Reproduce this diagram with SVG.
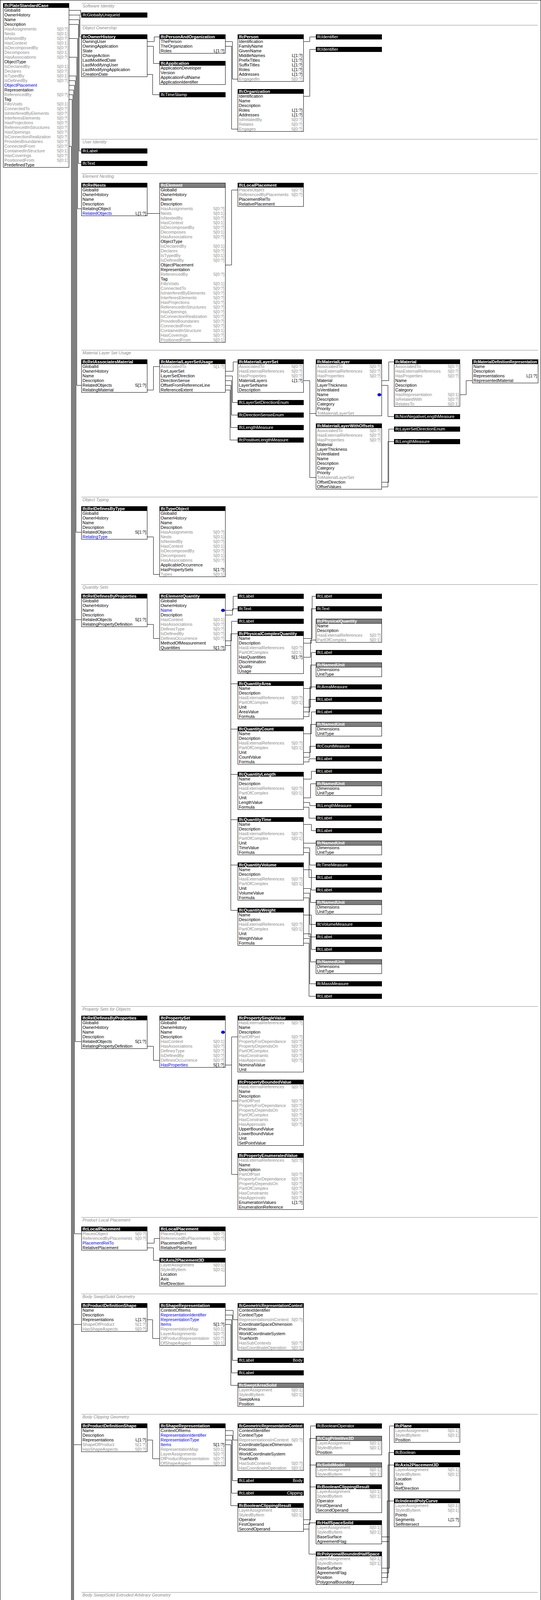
<svg xmlns="http://www.w3.org/2000/svg" width="1384" height="5876" viewBox="0 0 1384 5876">
<defs>
<style>
text{font-family:"Liberation Sans",Arial,Helvetica,sans-serif;font-size:11px;fill:#000}
.f{fill:#fff;stroke:#000}
.h{fill:#000}
.g{fill:#808080;stroke:#000}
.ht{fill:#fff;font-weight:bold}
.tt{fill:#fff}
.i{fill:#8c8c8c}
.u{fill:#0000ff}
.r{text-anchor:end}
.st{fill:#8c8c8c;font-style:italic}
.dot{fill:#0000ff}
#sections line{stroke:#8c8c8c}
#connectors path{fill:none;stroke:#000}
</style>
</defs>
<rect x="0.5" y="0.5" width="1383" height="5875" fill="#fff" stroke="#000"/>
<g id="sections">
<line x1="208" y1="8.5" x2="1376" y2="8.5"/><text class="st" x="211" y="19">Software Identity</text>
<line x1="208" y1="64.5" x2="1376" y2="64.5"/><text class="st" x="211" y="75">Object Ownership</text>
<line x1="208" y1="356.5" x2="1376" y2="356.5"/><text class="st" x="211" y="367">User Identity</text>
<line x1="208" y1="444.5" x2="1376" y2="444.5"/><text class="st" x="211" y="455">Element Nesting</text>
<line x1="208" y1="896.5" x2="1376" y2="896.5"/><text class="st" x="211" y="907">Material Layer Set Usage</text>
<line x1="208" y1="1272.5" x2="1376" y2="1272.5"/><text class="st" x="211" y="1283">Object Typing</text>
<line x1="208" y1="1496.5" x2="1376" y2="1496.5"/><text class="st" x="211" y="1507">Quantity Sets</text>
<line x1="208" y1="2576.5" x2="1376" y2="2576.5"/><text class="st" x="211" y="2587">Property Sets for Objects</text>
<line x1="208" y1="3116.5" x2="1376" y2="3116.5"/><text class="st" x="211" y="3127">Product Local Placement</text>
<line x1="208" y1="3312.5" x2="1376" y2="3312.5"/><text class="st" x="211" y="3323">Body SweptSolid Geometry</text>
<line x1="208" y1="3620.5" x2="1376" y2="3620.5"/><text class="st" x="211" y="3631">Body Clipping Geometry</text>
<line x1="208" y1="4076.5" x2="1376" y2="4076.5"/><text class="st" x="211" y="4087">Body SweptSolid Extruded Arbitrary Geometry</text>
<line x1="208" y1="4488.5" x2="1376" y2="4488.5"/><text class="st" x="211" y="4499">Annotation 2D Geometry</text>
<line x1="208" y1="5184.5" x2="1376" y2="5184.5"/><text class="st" x="211" y="5195">Product Assignment</text>
<line x1="208" y1="5324.5" x2="1376" y2="5324.5"/><text class="st" x="211" y="5335">Element Occurrence Attributes</text>
<line x1="208" y1="5380.5" x2="1376" y2="5380.5"/><text class="st" x="211" y="5391">Surface Connectivity</text>
</g>
<g id="connectors">
<path d="M177 26.5H206.5V38.5H208"/>
<path d="M177 38.5H204.5V94.5H208"/>
<path d="M177 50.5H202.5V386.5H208"/>
<path d="M177 62.5H200.5V418.5H208"/>
<path d="M177 98.5H198.5V534.5H208"/>
<path d="M177 146.5H196.5V986.5H208"/>
<path d="M177 194.5H194.5V1362.5H208"/>
<path d="M177 206.5H192.5V2666.5H208M192.5 1586.5H208"/>
<path d="M177 218.5H190.5V3158.5H208"/>
<path d="M177 230.5H188.5V4566.5H208M188.5 3390.5H208M188.5 3698.5H208M188.5 4154.5H208"/>
<path d="M177 242.5H186.5V5298.5H208"/>
<path d="M177 254.5H184.5V5354.5H208"/>
<path d="M177 374.5H182.5V5494.5H208"/>
<path d="M377 106.5H394.5V94.5H408"/>
<path d="M377 118.5H392.5V162.5H408"/>
<path d="M377 190.5H390.5V242.5H408"/>
<path d="M577 106.5H594.5V202.5H608"/>
<path d="M577 118.5H592.5V330.5H608"/>
<path d="M777 106.5H792.5V94.5H808"/>
<path d="M777 246.5H792.5V126.5H808"/>
<path d="M377 546.5H408"/>
<path d="M577 678.5H592.5V486.5H608"/>
<path d="M377 998.5H392.5V938.5H408"/>
<path d="M577 950.5H596.5V926.5H608"/>
<path d="M577 962.5H594.5V1030.5H608"/>
<path d="M577 974.5H592.5V1062.5H608"/>
<path d="M577 986.5H590.5V1094.5H608"/>
<path d="M577 998.5H588.5V1126.5H608"/>
<path d="M777 974.5H792.5V1222.5H808M792.5 1058.5H808"/>
<path d="M977 974.5H994.5V926.5H1008"/>
<path d="M977 986.5H992.5V1066.5H1008"/>
<path d="M977 1234.5H994.5V1098.5H1008"/>
<path d="M977 1246.5H992.5V1130.5H1008"/>
<path d="M1177 1010.5H1192.5V974.5H1208"/>
<path d="M377 1374.5H392.5V1470.5H408"/>
<path d="M377 1598.5H392.5V1634.5H408"/>
<path d="M577 1562.5H596.5V1526.5H608"/>
<path d="M577 1574.5H594.5V1558.5H608"/>
<path d="M577 1640.5H592.5V1590.5H608"/>
<path d="M577 1652.5H590.5M590.5 1622.5V2330.5M590.5 1622.5H608M590.5 1750.5H608M590.5 1866.5H608M590.5 1982.5H608M590.5 2098.5H608M590.5 2214.5H608M590.5 2330.5H608"/>
<path d="M777 1634.5H798.5V1526.5H808"/>
<path d="M777 1646.5H796.5V1558.5H808"/>
<path d="M777 1682.5H794.5V1638.5H808"/>
<path d="M777 1762.5H796.5V1670.5H808"/>
<path d="M777 1810.5H794.5V1702.5H808"/>
<path d="M777 1822.5H792.5V1758.5H808"/>
<path d="M777 1834.5H790.5V1790.5H808"/>
<path d="M777 1878.5H796.5V1822.5H808"/>
<path d="M777 1926.5H794.5V1854.5H808"/>
<path d="M777 1938.5H792.5V1910.5H808"/>
<path d="M777 1950.5H790.5V1942.5H808"/>
<path d="M777 1994.5H796.5V1974.5H808"/>
<path d="M777 2042.5H794.5V2006.5H808"/>
<path d="M777 2054.5H792.5V2062.5H808"/>
<path d="M777 2066.5H790.5V2094.5H808"/>
<path d="M777 2110.5H796.5V2126.5H808"/>
<path d="M777 2158.5H808"/>
<path d="M777 2170.5H792.5V2214.5H808"/>
<path d="M777 2182.5H790.5V2246.5H808"/>
<path d="M777 2226.5H796.5V2278.5H808"/>
<path d="M777 2274.5H794.5V2310.5H808"/>
<path d="M777 2286.5H792.5V2366.5H808"/>
<path d="M777 2298.5H790.5V2398.5H808"/>
<path d="M777 2342.5H796.5V2430.5H808"/>
<path d="M777 2390.5H794.5V2462.5H808"/>
<path d="M777 2402.5H792.5V2518.5H808"/>
<path d="M777 2414.5H790.5V2550.5H808"/>
<path d="M377 2678.5H392.5V2714.5H408"/>
<path d="M577 2726.5H592.5M592.5 2654.5V3006.5M592.5 2654.5H608M592.5 2818.5H608M592.5 3006.5H608"/>
<path d="M377 3182.5H394.5V3170.5H408"/>
<path d="M377 3194.5H392.5V3226.5H408"/>
<path d="M377 3378.5H390.5V3426.5H408"/>
<path d="M577 3354.5H596.5V3378.5H608"/>
<path d="M577 3366.5H594.5V3482.5H608"/>
<path d="M577 3378.5H592.5V3514.5H608"/>
<path d="M577 3390.5H590.5V3546.5H608"/>
<path d="M377 3686.5H390.5V3734.5H408"/>
<path d="M577 3662.5H596.5V3686.5H608"/>
<path d="M577 3674.5H594.5V3790.5H608"/>
<path d="M577 3686.5H592.5V3822.5H608"/>
<path d="M577 3698.5H590.5V3854.5H608"/>
<path d="M777 3890.5H794.5V3650.5H808"/>
<path d="M777 3902.5H792.5V3682.5H808M792.5 3750.5H808M792.5 3806.5H808"/>
<path d="M777 3914.5H790.5M790.5 3898.5V3978.5M790.5 3898.5H808M790.5 3978.5H808"/>
<path d="M977 3934.5H996.5V3650.5H1008"/>
<path d="M977 3946.5H994.5V3718.5H1008"/>
<path d="M977 4014.5H996.5V3934.5"/>
<path d="M977 4026.5H994.5V3946.5"/>
<path d="M977 4038.5H992.5V3750.5H1008"/>
<path d="M977 4050.5H990.5V3842.5H1008"/>
<path d="M377 4142.5H390.5V4190.5H408"/>
<path d="M577 4118.5H596.5V4142.5H608"/>
<path d="M577 4130.5H594.5V4246.5H608"/>
<path d="M577 4142.5H592.5V4278.5H608"/>
<path d="M577 4154.5H590.5V4390.5H608M590.5 4310.5H608"/>
<path d="M777 4426.5H796.5V4106.5H808"/>
<path d="M777 4462.5H790.5V4198.5H808"/>
<path d="M977 4166.5H992.5V4106.5H1008"/>
<path d="M1177 4142.5H1194.5V4106.5H1208"/>
<path d="M1177 4154.5H1192.5V4206.5H1208M1192.5 4174.5H1208"/>
<path d="M1177 4166.5H1190.5V4238.5H1208"/>
<path d="M377 4554.5H390.5V4602.5H408"/>
<path d="M577 4530.5H596.5V4554.5H608"/>
<path d="M577 4542.5H594.5V4658.5H608"/>
<path d="M577 4554.5H592.5V4690.5H608"/>
<path d="M577 4566.5H590.5V4962.5H608M590.5 4722.5H608M590.5 4802.5H608M590.5 4894.5H608"/>
<path d="M777 4746.5H794.5V4554.5H808"/>
<path d="M777 4758.5H792.5V4610.5H808"/>
<path d="M777 4770.5H790.5V4702.5H808"/>
<path d="M777 4826.5H796.5V4830.5H808"/>
<path d="M777 4838.5H794.5V4886.5H808"/>
<path d="M777 4986.5H796.5V4990.5H808"/>
<path d="M777 4998.5H794.5V5046.5H808"/>
<path d="M777 5010.5H792.5V5078.5H808"/>
<path d="M777 5022.5H790.5V5158.5H808"/>
<path d="M977 4566.5H992.5V4518.5H1008"/>
<path d="M977 4646.5H994.5V4586.5H1008"/>
<path d="M977 4658.5H992.5M992.5 4654.5V4686.5M992.5 4654.5H1008M992.5 4686.5H1008"/>
<path d="M977 4738.5H994.5V4718.5H1008"/>
<path d="M977 4750.5H992.5V4818.5H1008M992.5 4786.5H1008"/>
<path d="M977 4842.5H992.5V4850.5H1008"/>
<path d="M977 4922.5H992.5V4942.5H1008"/>
<path d="M977 5002.5H992.5V4974.5H1008"/>
<path d="M377 5470.5H394.5V5410.5H408"/>
<path d="M377 5482.5H392.5V5730.5H408"/>
<path d="M577 5422.5H594.5V5410.5H608"/>
<path d="M577 5434.5H592.5V5502.5H608"/>
</g>
<g id="nodes">
<g id="IfcPlateStandardCase" transform="translate(8,8)"><rect class="f" x=".5" y=".5" width="168" height="420"/><rect class="h" width="169" height="12"/><text class="ht" x="3" y="10">IfcPlateStandardCase</text>
<text x="3" y="22">GlobalId</text><text x="3" y="34">OwnerHistory</text><text x="3" y="46">Name</text><text x="3" y="58">Description</text>
<text class="i" x="3" y="70">HasAssignments</text><text class="r i" x="166" y="70">S[0:?]</text>
<text class="i" x="3" y="82">Nests</text><text class="r i" x="166" y="82">S[0:1]</text>
<text class="i" x="3" y="94">IsNestedBy</text><text class="r i" x="166" y="94">S[0:?]</text>
<text class="i" x="3" y="106">HasContext</text><text class="r i" x="166" y="106">S[0:1]</text>
<text class="i" x="3" y="118">IsDecomposedBy</text><text class="r i" x="166" y="118">S[0:?]</text>
<text class="i" x="3" y="130">Decomposes</text><text class="r i" x="166" y="130">S[0:1]</text>
<text class="i" x="3" y="142">HasAssociations</text><text class="r i" x="166" y="142">S[0:?]</text>
<text x="3" y="154">ObjectType</text>
<text class="i" x="3" y="166">IsDeclaredBy</text><text class="r i" x="166" y="166">S[0:1]</text>
<text class="i" x="3" y="178">Declares</text><text class="r i" x="166" y="178">S[0:?]</text>
<text class="i" x="3" y="190">IsTypedBy</text><text class="r i" x="166" y="190">S[0:1]</text>
<text class="i" x="3" y="202">IsDefinedBy</text><text class="r i" x="166" y="202">S[0:?]</text>
<text class="u" x="3" y="214">ObjectPlacement</text>
<text x="3" y="226">Representation</text>
<text class="i" x="3" y="238">ReferencedBy</text><text class="r i" x="166" y="238">S[0:?]</text>
<text x="3" y="250">Tag</text>
<text class="i" x="3" y="262">FillsVoids</text><text class="r i" x="166" y="262">S[0:1]</text>
<text class="i" x="3" y="274">ConnectedTo</text><text class="r i" x="166" y="274">S[0:?]</text>
<text class="i" x="3" y="286">IsInterferedByElements</text><text class="r i" x="166" y="286">S[0:?]</text>
<text class="i" x="3" y="298">InterferesElements</text><text class="r i" x="166" y="298">S[0:?]</text>
<text class="i" x="3" y="310">HasProjections</text><text class="r i" x="166" y="310">S[0:?]</text>
<text class="i" x="3" y="322">ReferencedInStructures</text><text class="r i" x="166" y="322">S[0:?]</text>
<text class="i" x="3" y="334">HasOpenings</text><text class="r i" x="166" y="334">S[0:?]</text>
<text class="i" x="3" y="346">IsConnectionRealization</text><text class="r i" x="166" y="346">S[0:?]</text>
<text class="i" x="3" y="358">ProvidesBoundaries</text><text class="r i" x="166" y="358">S[0:?]</text>
<text class="i" x="3" y="370">ConnectedFrom</text><text class="r i" x="166" y="370">S[0:?]</text>
<text class="i" x="3" y="382">ContainedInStructure</text><text class="r i" x="166" y="382">S[0:1]</text>
<text class="i" x="3" y="394">HasCoverings</text><text class="r i" x="166" y="394">S[0:?]</text>
<text class="i" x="3" y="406">PositionedFrom</text><text class="r i" x="166" y="406">S[0:1]</text>
<text x="3" y="418">PredefinedType</text></g>

<g id="GloballyUniqueId" transform="translate(208,32)"><rect class="h" width="169" height="13"/><text class="tt" x="3" y="10">IfcGloballyUniqueId</text></g>

<g id="OwnerHistory" transform="translate(208,88)"><rect class="f" x=".5" y=".5" width="168" height="108"/><rect class="h" width="169" height="12"/><text class="ht" x="3" y="10">IfcOwnerHistory</text>
<text x="3" y="22">OwningUser</text><text x="3" y="34">OwningApplication</text><text x="3" y="46">State</text><text x="3" y="58">ChangeAction</text><text x="3" y="70">LastModifiedDate</text><text x="3" y="82">LastModifyingUser</text><text x="3" y="94">LastModifyingApplication</text><text x="3" y="106">CreationDate</text></g>
<g id="PersonAndOrganization" transform="translate(408,88)"><rect class="f" x=".5" y=".5" width="168" height="48"/><rect class="h" width="169" height="12"/><text class="ht" x="3" y="10">IfcPersonAndOrganization</text>
<text x="3" y="22">ThePerson</text><text x="3" y="34">TheOrganization</text><text x="3" y="46">Roles</text><text class="r" x="166" y="46">L[1:?]</text></g>
<g id="Application" transform="translate(408,156)"><rect class="f" x=".5" y=".5" width="168" height="60"/><rect class="h" width="169" height="12"/><text class="ht" x="3" y="10">IfcApplication</text>
<text x="3" y="22">ApplicationDeveloper</text><text x="3" y="34">Version</text><text x="3" y="46">ApplicationFullName</text><text x="3" y="58">ApplicationIdentifier</text></g>
<g id="TimeStamp" transform="translate(408,236)"><rect class="h" width="169" height="13"/><text class="tt" x="3" y="10">IfcTimeStamp</text></g>
<g id="Person" transform="translate(608,88)"><rect class="f" x=".5" y=".5" width="168" height="120"/><rect class="h" width="169" height="12"/><text class="ht" x="3" y="10">IfcPerson</text>
<text x="3" y="22">Identification</text><text x="3" y="34">FamilyName</text><text x="3" y="46">GivenName</text>
<text x="3" y="58">MiddleNames</text><text class="r" x="166" y="58">L[1:?]</text>
<text x="3" y="70">PrefixTitles</text><text class="r" x="166" y="70">L[1:?]</text>
<text x="3" y="82">SuffixTitles</text><text class="r" x="166" y="82">L[1:?]</text>
<text x="3" y="94">Roles</text><text class="r" x="166" y="94">L[1:?]</text>
<text x="3" y="106">Addresses</text><text class="r" x="166" y="106">L[1:?]</text>
<text class="i" x="3" y="118">EngagedIn</text><text class="r i" x="166" y="118">S[0:?]</text></g>
<g id="Organization" transform="translate(608,228)"><rect class="f" x=".5" y=".5" width="168" height="108"/><rect class="h" width="169" height="12"/><text class="ht" x="3" y="10">IfcOrganization</text>
<text x="3" y="22">Identification</text><text x="3" y="34">Name</text><text x="3" y="46">Description</text>
<text x="3" y="58">Roles</text><text class="r" x="166" y="58">L[1:?]</text>
<text x="3" y="70">Addresses</text><text class="r" x="166" y="70">L[1:?]</text>
<text class="i" x="3" y="82">IsRelatedBy</text><text class="r i" x="166" y="82">S[0:?]</text>
<text class="i" x="3" y="94">Relates</text><text class="r i" x="166" y="94">S[0:?]</text>
<text class="i" x="3" y="106">Engages</text><text class="r i" x="166" y="106">S[0:?]</text></g>
<g id="Identifier1" transform="translate(808,88)"><rect class="h" width="169" height="13"/><text class="tt" x="3" y="10">IfcIdentifier</text></g>
<g id="Identifier2" transform="translate(808,120)"><rect class="h" width="169" height="13"/><text class="tt" x="3" y="10">IfcIdentifier</text></g>

<g id="Label_user" transform="translate(208,380)"><rect class="h" width="169" height="13"/><text class="tt" x="3" y="10">IfcLabel</text></g>
<g id="Text_user" transform="translate(208,412)"><rect class="h" width="169" height="13"/><text class="tt" x="3" y="10">IfcText</text></g>

<g id="RelNests" transform="translate(208,468)"><rect class="f" x=".5" y=".5" width="168" height="84"/><rect class="h" width="169" height="12"/><text class="ht" x="3" y="10">IfcRelNests</text>
<text x="3" y="22">GlobalId</text><text x="3" y="34">OwnerHistory</text><text x="3" y="46">Name</text><text x="3" y="58">Description</text><text x="3" y="70">RelatingObject</text>
<text class="u" x="3" y="82">RelatedObjects</text><text class="r" x="166" y="82">L[1:?]</text></g>
<g id="Element_nest" transform="translate(408,468)"><rect class="f" x=".5" y=".5" width="168" height="408"/><rect class="g" x=".5" y=".5" width="168" height="11.5"/><text class="ht" x="3" y="10">IfcElement</text>
<text x="3" y="22">GlobalId</text><text x="3" y="34">OwnerHistory</text><text x="3" y="46">Name</text><text x="3" y="58">Description</text>
<text class="i" x="3" y="70">HasAssignments</text><text class="r i" x="166" y="70">S[0:?]</text>
<text class="i" x="3" y="82">Nests</text><text class="r i" x="166" y="82">S[0:1]</text>
<text class="i" x="3" y="94">IsNestedBy</text><text class="r i" x="166" y="94">S[0:?]</text>
<text class="i" x="3" y="106">HasContext</text><text class="r i" x="166" y="106">S[0:1]</text>
<text class="i" x="3" y="118">IsDecomposedBy</text><text class="r i" x="166" y="118">S[0:?]</text>
<text class="i" x="3" y="130">Decomposes</text><text class="r i" x="166" y="130">S[0:1]</text>
<text class="i" x="3" y="142">HasAssociations</text><text class="r i" x="166" y="142">S[0:?]</text>
<text x="3" y="154">ObjectType</text>
<text class="i" x="3" y="166">IsDeclaredBy</text><text class="r i" x="166" y="166">S[0:1]</text>
<text class="i" x="3" y="178">Declares</text><text class="r i" x="166" y="178">S[0:?]</text>
<text class="i" x="3" y="190">IsTypedBy</text><text class="r i" x="166" y="190">S[0:1]</text>
<text class="i" x="3" y="202">IsDefinedBy</text><text class="r i" x="166" y="202">S[0:?]</text>
<text x="3" y="214">ObjectPlacement</text>
<text x="3" y="226">Representation</text>
<text class="i" x="3" y="238">ReferencedBy</text><text class="r i" x="166" y="238">S[0:?]</text>
<text x="3" y="250">Tag</text>
<text class="i" x="3" y="262">FillsVoids</text><text class="r i" x="166" y="262">S[0:1]</text>
<text class="i" x="3" y="274">ConnectedTo</text><text class="r i" x="166" y="274">S[0:?]</text>
<text class="i" x="3" y="286">IsInterferedByElements</text><text class="r i" x="166" y="286">S[0:?]</text>
<text class="i" x="3" y="298">InterferesElements</text><text class="r i" x="166" y="298">S[0:?]</text>
<text class="i" x="3" y="310">HasProjections</text><text class="r i" x="166" y="310">S[0:?]</text>
<text class="i" x="3" y="322">ReferencedInStructures</text><text class="r i" x="166" y="322">S[0:?]</text>
<text class="i" x="3" y="334">HasOpenings</text><text class="r i" x="166" y="334">S[0:?]</text>
<text class="i" x="3" y="346">IsConnectionRealization</text><text class="r i" x="166" y="346">S[0:?]</text>
<text class="i" x="3" y="358">ProvidesBoundaries</text><text class="r i" x="166" y="358">S[0:?]</text>
<text class="i" x="3" y="370">ConnectedFrom</text><text class="r i" x="166" y="370">S[0:?]</text>
<text class="i" x="3" y="382">ContainedInStructure</text><text class="r i" x="166" y="382">S[0:1]</text>
<text class="i" x="3" y="394">HasCoverings</text><text class="r i" x="166" y="394">S[0:?]</text>
<text class="i" x="3" y="406">PositionedFrom</text><text class="r i" x="166" y="406">S[0:1]</text></g>
<g id="LocalPlacement_nest" transform="translate(608,468)"><rect class="f" x=".5" y=".5" width="168" height="60"/><rect class="h" width="169" height="12"/><text class="ht" x="3" y="10">IfcLocalPlacement</text>
<text class="i" x="3" y="22">PlacesObject</text><text class="r i" x="166" y="22">S[0:?]</text>
<text class="i" x="3" y="34">ReferencedByPlacements</text><text class="r i" x="166" y="34">S[0:?]</text>
<text x="3" y="46">PlacementRelTo</text><text x="3" y="58">RelativePlacement</text></g>

<g id="RelAssociatesMaterial" transform="translate(208,920)"><rect class="f" x=".5" y=".5" width="168" height="84"/><rect class="h" width="169" height="12"/><text class="ht" x="3" y="10">IfcRelAssociatesMaterial</text>
<text x="3" y="22">GlobalId</text><text x="3" y="34">OwnerHistory</text><text x="3" y="46">Name</text><text x="3" y="58">Description</text>
<text x="3" y="70">RelatedObjects</text><text class="r" x="166" y="70">S[1:?]</text><text x="3" y="82">RelatingMaterial</text></g>
<g id="MaterialLayerSetUsage" transform="translate(408,920)"><rect class="f" x=".5" y=".5" width="168" height="84"/><rect class="h" width="169" height="12"/><text class="ht" x="3" y="10">IfcMaterialLayerSetUsage</text>
<text class="i" x="3" y="22">AssociatedTo</text><text class="r i" x="166" y="22">S[1:?]</text>
<text x="3" y="34">ForLayerSet</text><text x="3" y="46">LayerSetDirection</text><text x="3" y="58">DirectionSense</text><text x="3" y="70">OffsetFromReferenceLine</text><text x="3" y="82">ReferenceExtent</text></g>
<g id="MaterialLayerSet" transform="translate(608,920)"><rect class="f" x=".5" y=".5" width="168" height="84"/><rect class="h" width="169" height="12"/><text class="ht" x="3" y="10">IfcMaterialLayerSet</text>
<text class="i" x="3" y="22">AssociatedTo</text><text class="r i" x="166" y="22">S[0:?]</text>
<text class="i" x="3" y="34">HasExternalReferences</text><text class="r i" x="166" y="34">S[0:?]</text>
<text class="i" x="3" y="46">HasProperties</text><text class="r i" x="166" y="46">S[0:?]</text>
<text x="3" y="58">MaterialLayers</text><text class="r" x="166" y="58">L[1:?]</text>
<text x="3" y="70">LayerSetName</text><text x="3" y="82">Description</text></g>
<g id="LayerSetDirectionEnum1" transform="translate(608,1024)"><rect class="h" width="169" height="13"/><text class="tt" x="3" y="10">IfcLayerSetDirectionEnum</text></g>
<g id="DirectionSenseEnum" transform="translate(608,1056)"><rect class="h" width="169" height="13"/><text class="tt" x="3" y="10">IfcDirectionSenseEnum</text></g>
<g id="LengthMeasure_m1" transform="translate(608,1088)"><rect class="h" width="169" height="13"/><text class="tt" x="3" y="10">IfcLengthMeasure</text></g>
<g id="PositiveLengthMeasure_m" transform="translate(608,1120)"><rect class="h" width="169" height="13"/><text class="tt" x="3" y="10">IfcPositiveLengthMeasure</text></g>
<g id="MaterialLayer" transform="translate(808,920)"><rect class="f" x=".5" y=".5" width="168" height="144"/><rect class="h" width="169" height="12"/><text class="ht" x="3" y="10">IfcMaterialLayer</text>
<text class="i" x="3" y="22">AssociatedTo</text><text class="r i" x="166" y="22">S[0:?]</text>
<text class="i" x="3" y="34">HasExternalReferences</text><text class="r i" x="166" y="34">S[0:?]</text>
<text class="i" x="3" y="46">HasProperties</text><text class="r i" x="166" y="46">S[0:?]</text>
<text x="3" y="58">Material</text><text x="3" y="70">LayerThickness</text><text x="3" y="82">IsVentilated</text><text x="3" y="94">Name</text><ellipse class="dot" cx="162.5" cy="90.5" rx="5" ry="4"/>
<text x="3" y="106">Description</text><text x="3" y="118">Category</text><text x="3" y="130">Priority</text><text class="i" x="3" y="142">ToMaterialLayerSet</text></g>
<g id="MaterialLayerWithOffsets" transform="translate(808,1084)"><rect class="f" x=".5" y=".5" width="168" height="168"/><rect class="h" width="169" height="12"/><text class="ht" x="3" y="10">IfcMaterialLayerWithOffsets</text>
<text class="i" x="3" y="22">AssociatedTo</text><text class="r i" x="166" y="22">S[0:?]</text>
<text class="i" x="3" y="34">HasExternalReferences</text><text class="r i" x="166" y="34">S[0:?]</text>
<text class="i" x="3" y="46">HasProperties</text><text class="r i" x="166" y="46">S[0:?]</text>
<text x="3" y="58">Material</text><text x="3" y="70">LayerThickness</text><text x="3" y="82">IsVentilated</text><text x="3" y="94">Name</text>
<text x="3" y="106">Description</text><text x="3" y="118">Category</text><text x="3" y="130">Priority</text><text class="i" x="3" y="142">ToMaterialLayerSet</text>
<text x="3" y="154">OffsetDirection</text><text x="3" y="166">OffsetValues</text></g>
<g id="Material" transform="translate(1008,920)"><rect class="f" x=".5" y=".5" width="168" height="120"/><rect class="h" width="169" height="12"/><text class="ht" x="3" y="10">IfcMaterial</text>
<text class="i" x="3" y="22">AssociatedTo</text><text class="r i" x="166" y="22">S[0:?]</text>
<text class="i" x="3" y="34">HasExternalReferences</text><text class="r i" x="166" y="34">S[0:?]</text>
<text class="i" x="3" y="46">HasProperties</text><text class="r i" x="166" y="46">S[0:?]</text>
<text x="3" y="58">Name</text><text x="3" y="70">Description</text><text x="3" y="82">Category</text>
<text class="i" x="3" y="94">HasRepresentation</text><text class="r i" x="166" y="94">S[0:1]</text>
<text class="i" x="3" y="106">IsRelatedWith</text><text class="r i" x="166" y="106">S[0:?]</text>
<text class="i" x="3" y="118">RelatesTo</text><text class="r i" x="166" y="118">S[0:1]</text></g>
<g id="NonNegativeLengthMeasure" transform="translate(1008,1060)"><rect class="h" width="169" height="13"/><text class="tt" x="3" y="10">IfcNonNegativeLengthMeasure</text></g>
<g id="LayerSetDirectionEnum2" transform="translate(1008,1092)"><rect class="h" width="169" height="13"/><text class="tt" x="3" y="10">IfcLayerSetDirectionEnum</text></g>
<g id="LengthMeasure_m2" transform="translate(1008,1124)"><rect class="h" width="169" height="13"/><text class="tt" x="3" y="10">IfcLengthMeasure</text></g>
<g id="MaterialDefinitionRepresentation" transform="translate(1208,920)"><rect class="f" x=".5" y=".5" width="168" height="60"/><rect class="h" width="169" height="12"/><text class="ht" x="3" y="10" textLength="163" lengthAdjust="spacingAndGlyphs">IfcMaterialDefinitionRepresentation</text>
<text x="3" y="22">Name</text><text x="3" y="34">Description</text><text x="3" y="46">Representations</text><text class="r" x="166" y="46">L[1:?]</text><text x="3" y="58">RepresentedMaterial</text></g>

<g id="RelDefinesByType" transform="translate(208,1296)"><rect class="f" x=".5" y=".5" width="168" height="84"/><rect class="h" width="169" height="12"/><text class="ht" x="3" y="10">IfcRelDefinesByType</text>
<text x="3" y="22">GlobalId</text><text x="3" y="34">OwnerHistory</text><text x="3" y="46">Name</text><text x="3" y="58">Description</text>
<text x="3" y="70">RelatedObjects</text><text class="r" x="166" y="70">S[1:?]</text><text class="u" x="3" y="82">RelatingType</text></g>
<g id="TypeObject" transform="translate(408,1296)"><rect class="f" x=".5" y=".5" width="168" height="180"/><rect class="h" width="169" height="12"/><text class="ht" x="3" y="10">IfcTypeObject</text>
<text x="3" y="22">GlobalId</text><text x="3" y="34">OwnerHistory</text><text x="3" y="46">Name</text><text x="3" y="58">Description</text>
<text class="i" x="3" y="70">HasAssignments</text><text class="r i" x="166" y="70">S[0:?]</text>
<text class="i" x="3" y="82">Nests</text><text class="r i" x="166" y="82">S[0:1]</text>
<text class="i" x="3" y="94">IsNestedBy</text><text class="r i" x="166" y="94">S[0:?]</text>
<text class="i" x="3" y="106">HasContext</text><text class="r i" x="166" y="106">S[0:1]</text>
<text class="i" x="3" y="118">IsDecomposedBy</text><text class="r i" x="166" y="118">S[0:?]</text>
<text class="i" x="3" y="130">Decomposes</text><text class="r i" x="166" y="130">S[0:1]</text>
<text class="i" x="3" y="142">HasAssociations</text><text class="r i" x="166" y="142">S[0:?]</text>
<text x="3" y="154">ApplicableOccurrence</text>
<text x="3" y="166">HasPropertySets</text><text class="r" x="166" y="166">S[1:?]</text>
<text class="i" x="3" y="178">Types</text><text class="r i" x="166" y="178">S[0:1]</text></g>

<g id="RelDefinesByProperties_q" transform="translate(208,1520)"><rect class="f" x=".5" y=".5" width="168" height="84"/><rect class="h" width="169" height="12"/><text class="ht" x="3" y="10">IfcRelDefinesByProperties</text>
<text x="3" y="22">GlobalId</text><text x="3" y="34">OwnerHistory</text><text x="3" y="46">Name</text><text x="3" y="58">Description</text>
<text x="3" y="70">RelatedObjects</text><text class="r" x="166" y="70">S[1:?]</text><text x="3" y="82">RelatingPropertyDefinition</text></g>
<g id="ElementQuantity" transform="translate(408,1520)"><rect class="f" x=".5" y=".5" width="168" height="144"/><rect class="h" width="169" height="12"/><text class="ht" x="3" y="10">IfcElementQuantity</text>
<text x="3" y="22">GlobalId</text><text x="3" y="34">OwnerHistory</text><text class="u" x="3" y="46">Name</text><ellipse class="dot" cx="162.5" cy="42.5" rx="5" ry="4"/><text x="3" y="58">Description</text>
<text class="i" x="3" y="70">HasContext</text><text class="r i" x="166" y="70">S[0:1]</text>
<text class="i" x="3" y="82">HasAssociations</text><text class="r i" x="166" y="82">S[0:?]</text>
<text class="i" x="3" y="94">DefinesType</text><text class="r i" x="166" y="94">S[0:?]</text>
<text class="i" x="3" y="106">IsDefinedBy</text><text class="r i" x="166" y="106">S[0:?]</text>
<text class="i" x="3" y="118">DefinesOccurrence</text><text class="r i" x="166" y="118">S[0:?]</text>
<text x="3" y="130">MethodOfMeasurement</text>
<text x="3" y="142">Quantities</text><text class="r" x="166" y="142">S[1:?]</text></g>
<g id="Label_q1" transform="translate(608,1520)"><rect class="h" width="169" height="13"/><text class="tt" x="3" y="10">IfcLabel</text></g>
<g id="Text_q1" transform="translate(608,1552)"><rect class="h" width="169" height="13"/><text class="tt" x="3" y="10">IfcText</text></g>
<g id="Label_q2" transform="translate(608,1584)"><rect class="h" width="169" height="13"/><text class="tt" x="3" y="10">IfcLabel</text></g>
<g id="PhysicalComplexQuantity" transform="translate(608,1616)"><rect class="f" x=".5" y=".5" width="168" height="108"/><rect class="h" width="169" height="12"/><text class="ht" x="3" y="10">IfcPhysicalComplexQuantity</text>
<text x="3" y="22">Name</text><text x="3" y="34">Description</text>
<text class="i" x="3" y="46">HasExternalReferences</text><text class="r i" x="166" y="46">S[0:?]</text>
<text class="i" x="3" y="58">PartOfComplex</text><text class="r i" x="166" y="58">S[0:1]</text>
<text x="3" y="70">HasQuantities</text><text class="r" x="166" y="70">S[1:?]</text>
<text x="3" y="82">Discrimination</text><text x="3" y="94">Quality</text><text x="3" y="106">Usage</text></g>
<g id="QuantityArea" transform="translate(608,1744)"><rect class="f" x=".5" y=".5" width="168" height="96"/><rect class="h" width="169" height="12"/><text class="ht" x="3" y="10">IfcQuantityArea</text>
<text x="3" y="22">Name</text><text x="3" y="34">Description</text><text class="i" x="3" y="46">HasExternalReferences</text><text class="r i" x="166" y="46">S[0:?]</text><text class="i" x="3" y="58">PartOfComplex</text><text class="r i" x="166" y="58">S[0:1]</text><text x="3" y="70">Unit</text><text x="3" y="82">AreaValue</text><text x="3" y="94">Formula</text></g>
<g id="QuantityCount" transform="translate(608,1860)"><rect class="f" x=".5" y=".5" width="168" height="96"/><rect class="h" width="169" height="12"/><text class="ht" x="3" y="10">IfcQuantityCount</text>
<text x="3" y="22">Name</text><text x="3" y="34">Description</text><text class="i" x="3" y="46">HasExternalReferences</text><text class="r i" x="166" y="46">S[0:?]</text><text class="i" x="3" y="58">PartOfComplex</text><text class="r i" x="166" y="58">S[0:1]</text><text x="3" y="70">Unit</text><text x="3" y="82">CountValue</text><text x="3" y="94">Formula</text></g>
<g id="QuantityLength" transform="translate(608,1976)"><rect class="f" x=".5" y=".5" width="168" height="96"/><rect class="h" width="169" height="12"/><text class="ht" x="3" y="10">IfcQuantityLength</text>
<text x="3" y="22">Name</text><text x="3" y="34">Description</text><text class="i" x="3" y="46">HasExternalReferences</text><text class="r i" x="166" y="46">S[0:?]</text><text class="i" x="3" y="58">PartOfComplex</text><text class="r i" x="166" y="58">S[0:1]</text><text x="3" y="70">Unit</text><text x="3" y="82">LengthValue</text><text x="3" y="94">Formula</text></g>
<g id="QuantityTime" transform="translate(608,2092)"><rect class="f" x=".5" y=".5" width="168" height="96"/><rect class="h" width="169" height="12"/><text class="ht" x="3" y="10">IfcQuantityTime</text>
<text x="3" y="22">Name</text><text x="3" y="34">Description</text><text class="i" x="3" y="46">HasExternalReferences</text><text class="r i" x="166" y="46">S[0:?]</text><text class="i" x="3" y="58">PartOfComplex</text><text class="r i" x="166" y="58">S[0:1]</text><text x="3" y="70">Unit</text><text x="3" y="82">TimeValue</text><text x="3" y="94">Formula</text></g>
<g id="QuantityVolume" transform="translate(608,2208)"><rect class="f" x=".5" y=".5" width="168" height="96"/><rect class="h" width="169" height="12"/><text class="ht" x="3" y="10">IfcQuantityVolume</text>
<text x="3" y="22">Name</text><text x="3" y="34">Description</text><text class="i" x="3" y="46">HasExternalReferences</text><text class="r i" x="166" y="46">S[0:?]</text><text class="i" x="3" y="58">PartOfComplex</text><text class="r i" x="166" y="58">S[0:1]</text><text x="3" y="70">Unit</text><text x="3" y="82">VolumeValue</text><text x="3" y="94">Formula</text></g>
<g id="QuantityWeight" transform="translate(608,2324)"><rect class="f" x=".5" y=".5" width="168" height="96"/><rect class="h" width="169" height="12"/><text class="ht" x="3" y="10">IfcQuantityWeight</text>
<text x="3" y="22">Name</text><text x="3" y="34">Description</text><text class="i" x="3" y="46">HasExternalReferences</text><text class="r i" x="166" y="46">S[0:?]</text><text class="i" x="3" y="58">PartOfComplex</text><text class="r i" x="166" y="58">S[0:1]</text><text x="3" y="70">Unit</text><text x="3" y="82">WeightValue</text><text x="3" y="94">Formula</text></g>
<g id="Label_q3" transform="translate(808,1520)"><rect class="h" width="169" height="13"/><text class="tt" x="3" y="10">IfcLabel</text></g>
<g id="Text_q2" transform="translate(808,1552)"><rect class="h" width="169" height="13"/><text class="tt" x="3" y="10">IfcText</text></g>
<g id="PhysicalQuantity" transform="translate(808,1584)"><rect class="f" x=".5" y=".5" width="168" height="60"/><rect class="g" x=".5" y=".5" width="168" height="11.5"/><text class="ht" x="3" y="10">IfcPhysicalQuantity</text>
<text x="3" y="22">Name</text><text x="3" y="34">Description</text><text class="i" x="3" y="46">HasExternalReferences</text><text class="r i" x="166" y="46">S[0:?]</text><text class="i" x="3" y="58">PartOfComplex</text><text class="r i" x="166" y="58">S[0:1]</text></g>
<g id="Label_a1" transform="translate(808,1664)"><rect class="h" width="169" height="13"/><text class="tt" x="3" y="10">IfcLabel</text></g>
<g id="NamedUnit_a" transform="translate(808,1696)"><rect class="f" x=".5" y=".5" width="168" height="36"/><rect class="g" x=".5" y=".5" width="168" height="11.5"/><text class="ht" x="3" y="10">IfcNamedUnit</text><text x="3" y="22">Dimensions</text><text x="3" y="34">UnitType</text></g>
<g id="AreaMeasure" transform="translate(808,1752)"><rect class="h" width="169" height="13"/><text class="tt" x="3" y="10">IfcAreaMeasure</text></g>
<g id="Label_a2" transform="translate(808,1784)"><rect class="h" width="169" height="13"/><text class="tt" x="3" y="10">IfcLabel</text></g>
<g id="Label_c1" transform="translate(808,1816)"><rect class="h" width="169" height="13"/><text class="tt" x="3" y="10">IfcLabel</text></g>
<g id="NamedUnit_c" transform="translate(808,1848)"><rect class="f" x=".5" y=".5" width="168" height="36"/><rect class="g" x=".5" y=".5" width="168" height="11.5"/><text class="ht" x="3" y="10">IfcNamedUnit</text><text x="3" y="22">Dimensions</text><text x="3" y="34">UnitType</text></g>
<g id="CountMeasure" transform="translate(808,1904)"><rect class="h" width="169" height="13"/><text class="tt" x="3" y="10">IfcCountMeasure</text></g>
<g id="Label_c2" transform="translate(808,1936)"><rect class="h" width="169" height="13"/><text class="tt" x="3" y="10">IfcLabel</text></g>
<g id="Label_l1" transform="translate(808,1968)"><rect class="h" width="169" height="13"/><text class="tt" x="3" y="10">IfcLabel</text></g>
<g id="NamedUnit_l" transform="translate(808,2000)"><rect class="f" x=".5" y=".5" width="168" height="36"/><rect class="g" x=".5" y=".5" width="168" height="11.5"/><text class="ht" x="3" y="10">IfcNamedUnit</text><text x="3" y="22">Dimensions</text><text x="3" y="34">UnitType</text></g>
<g id="LengthMeasure_q" transform="translate(808,2056)"><rect class="h" width="169" height="13"/><text class="tt" x="3" y="10">IfcLengthMeasure</text></g>
<g id="Label_l2" transform="translate(808,2088)"><rect class="h" width="169" height="13"/><text class="tt" x="3" y="10">IfcLabel</text></g>
<g id="Label_t1" transform="translate(808,2120)"><rect class="h" width="169" height="13"/><text class="tt" x="3" y="10">IfcLabel</text></g>
<g id="NamedUnit_t" transform="translate(808,2152)"><rect class="f" x=".5" y=".5" width="168" height="36"/><rect class="g" x=".5" y=".5" width="168" height="11.5"/><text class="ht" x="3" y="10">IfcNamedUnit</text><text x="3" y="22">Dimensions</text><text x="3" y="34">UnitType</text></g>
<g id="TimeMeasure" transform="translate(808,2208)"><rect class="h" width="169" height="13"/><text class="tt" x="3" y="10">IfcTimeMeasure</text></g>
<g id="Label_t2" transform="translate(808,2240)"><rect class="h" width="169" height="13"/><text class="tt" x="3" y="10">IfcLabel</text></g>
<g id="Label_v1" transform="translate(808,2272)"><rect class="h" width="169" height="13"/><text class="tt" x="3" y="10">IfcLabel</text></g>
<g id="NamedUnit_v" transform="translate(808,2304)"><rect class="f" x=".5" y=".5" width="168" height="36"/><rect class="g" x=".5" y=".5" width="168" height="11.5"/><text class="ht" x="3" y="10">IfcNamedUnit</text><text x="3" y="22">Dimensions</text><text x="3" y="34">UnitType</text></g>
<g id="VolumeMeasure" transform="translate(808,2360)"><rect class="h" width="169" height="13"/><text class="tt" x="3" y="10">IfcVolumeMeasure</text></g>
<g id="Label_v2" transform="translate(808,2392)"><rect class="h" width="169" height="13"/><text class="tt" x="3" y="10">IfcLabel</text></g>
<g id="Label_w1" transform="translate(808,2424)"><rect class="h" width="169" height="13"/><text class="tt" x="3" y="10">IfcLabel</text></g>
<g id="NamedUnit_w" transform="translate(808,2456)"><rect class="f" x=".5" y=".5" width="168" height="36"/><rect class="g" x=".5" y=".5" width="168" height="11.5"/><text class="ht" x="3" y="10">IfcNamedUnit</text><text x="3" y="22">Dimensions</text><text x="3" y="34">UnitType</text></g>
<g id="MassMeasure" transform="translate(808,2512)"><rect class="h" width="169" height="13"/><text class="tt" x="3" y="10">IfcMassMeasure</text></g>
<g id="Label_w2" transform="translate(808,2544)"><rect class="h" width="169" height="13"/><text class="tt" x="3" y="10">IfcLabel</text></g>

<g id="RelDefinesByProperties_p" transform="translate(208,2600)"><rect class="f" x=".5" y=".5" width="168" height="84"/><rect class="h" width="169" height="12"/><text class="ht" x="3" y="10">IfcRelDefinesByProperties</text>
<text x="3" y="22">GlobalId</text><text x="3" y="34">OwnerHistory</text><text x="3" y="46">Name</text><text x="3" y="58">Description</text>
<text x="3" y="70">RelatedObjects</text><text class="r" x="166" y="70">S[1:?]</text><text x="3" y="82">RelatingPropertyDefinition</text></g>
<g id="PropertySet" transform="translate(408,2600)"><rect class="f" x=".5" y=".5" width="168" height="132"/><rect class="h" width="169" height="12"/><text class="ht" x="3" y="10">IfcPropertySet</text>
<text x="3" y="22">GlobalId</text><text x="3" y="34">OwnerHistory</text><text x="3" y="46">Name</text><ellipse class="dot" cx="162.5" cy="42.5" rx="5" ry="4"/><text x="3" y="58">Description</text>
<text class="i" x="3" y="70">HasContext</text><text class="r i" x="166" y="70">S[0:1]</text>
<text class="i" x="3" y="82">HasAssociations</text><text class="r i" x="166" y="82">S[0:?]</text>
<text class="i" x="3" y="94">DefinesType</text><text class="r i" x="166" y="94">S[0:?]</text>
<text class="i" x="3" y="106">IsDefinedBy</text><text class="r i" x="166" y="106">S[0:?]</text>
<text class="i" x="3" y="118">DefinesOccurrence</text><text class="r i" x="166" y="118">S[0:?]</text>
<text class="u" x="3" y="130">HasProperties</text><text class="r" x="166" y="130">S[1:?]</text></g>
<g id="PropertySingleValue" transform="translate(608,2600)"><rect class="f" x=".5" y=".5" width="168" height="144"/><rect class="h" width="169" height="12"/><text class="ht" x="3" y="10">IfcPropertySingleValue</text>
<text class="i" x="3" y="22">HasExternalReferences</text><text class="r i" x="166" y="22">S[0:?]</text><text x="3" y="34">Name</text><text x="3" y="46">Description</text>
<text class="i" x="3" y="58">PartOfPset</text><text class="r i" x="166" y="58">S[0:?]</text>
<text class="i" x="3" y="70">PropertyForDependance</text><text class="r i" x="166" y="70">S[0:?]</text>
<text class="i" x="3" y="82">PropertyDependsOn</text><text class="r i" x="166" y="82">S[0:?]</text>
<text class="i" x="3" y="94">PartOfComplex</text><text class="r i" x="166" y="94">S[0:?]</text>
<text class="i" x="3" y="106">HasConstraints</text><text class="r i" x="166" y="106">S[0:?]</text>
<text class="i" x="3" y="118">HasApprovals</text><text class="r i" x="166" y="118">S[0:?]</text>
<text x="3" y="130">NominalValue</text><text x="3" y="142">Unit</text></g>
<g id="PropertyBoundedValue" transform="translate(608,2764)"><rect class="f" x=".5" y=".5" width="168" height="168"/><rect class="h" width="169" height="12"/><text class="ht" x="3" y="10">IfcPropertyBoundedValue</text>
<text class="i" x="3" y="22">HasExternalReferences</text><text class="r i" x="166" y="22">S[0:?]</text><text x="3" y="34">Name</text><text x="3" y="46">Description</text>
<text class="i" x="3" y="58">PartOfPset</text><text class="r i" x="166" y="58">S[0:?]</text>
<text class="i" x="3" y="70">PropertyForDependance</text><text class="r i" x="166" y="70">S[0:?]</text>
<text class="i" x="3" y="82">PropertyDependsOn</text><text class="r i" x="166" y="82">S[0:?]</text>
<text class="i" x="3" y="94">PartOfComplex</text><text class="r i" x="166" y="94">S[0:?]</text>
<text class="i" x="3" y="106">HasConstraints</text><text class="r i" x="166" y="106">S[0:?]</text>
<text class="i" x="3" y="118">HasApprovals</text><text class="r i" x="166" y="118">S[0:?]</text>
<text x="3" y="130">UpperBoundValue</text><text x="3" y="142">LowerBoundValue</text><text x="3" y="154">Unit</text><text x="3" y="166">SetPointValue</text></g>
<g id="PropertyEnumeratedValue" transform="translate(608,2952)"><rect class="f" x=".5" y=".5" width="168" height="144"/><rect class="h" width="169" height="12"/><text class="ht" x="3" y="10">IfcPropertyEnumeratedValue</text>
<text class="i" x="3" y="22">HasExternalReferences</text><text class="r i" x="166" y="22">S[0:?]</text><text x="3" y="34">Name</text><text x="3" y="46">Description</text>
<text class="i" x="3" y="58">PartOfPset</text><text class="r i" x="166" y="58">S[0:?]</text>
<text class="i" x="3" y="70">PropertyForDependance</text><text class="r i" x="166" y="70">S[0:?]</text>
<text class="i" x="3" y="82">PropertyDependsOn</text><text class="r i" x="166" y="82">S[0:?]</text>
<text class="i" x="3" y="94">PartOfComplex</text><text class="r i" x="166" y="94">S[0:?]</text>
<text class="i" x="3" y="106">HasConstraints</text><text class="r i" x="166" y="106">S[0:?]</text>
<text class="i" x="3" y="118">HasApprovals</text><text class="r i" x="166" y="118">S[0:?]</text>
<text x="3" y="130">EnumerationValues</text><text class="r" x="166" y="130">L[1:?]</text><text x="3" y="142">EnumerationReference</text></g>

<g id="LocalPlacement_p1" transform="translate(208,3140)"><rect class="f" x=".5" y=".5" width="168" height="60"/><rect class="h" width="169" height="12"/><text class="ht" x="3" y="10">IfcLocalPlacement</text>
<text class="i" x="3" y="22">PlacesObject</text><text class="r i" x="166" y="22">S[0:?]</text>
<text class="i" x="3" y="34">ReferencedByPlacements</text><text class="r i" x="166" y="34">S[0:?]</text>
<text class="u" x="3" y="46">PlacementRelTo</text><text x="3" y="58">RelativePlacement</text></g>
<g id="LocalPlacement_p2" transform="translate(408,3140)"><rect class="f" x=".5" y=".5" width="168" height="60"/><rect class="h" width="169" height="12"/><text class="ht" x="3" y="10">IfcLocalPlacement</text>
<text class="i" x="3" y="22">PlacesObject</text><text class="r i" x="166" y="22">S[0:?]</text>
<text class="i" x="3" y="34">ReferencedByPlacements</text><text class="r i" x="166" y="34">S[0:?]</text>
<text x="3" y="46">PlacementRelTo</text><text x="3" y="58">RelativePlacement</text></g>
<g id="Axis2Placement3D_p" transform="translate(408,3220)"><rect class="f" x=".5" y=".5" width="168" height="72"/><rect class="h" width="169" height="12"/><text class="ht" x="3" y="10">IfcAxis2Placement3D</text>
<text class="i" x="3" y="22">LayerAssignment</text><text class="r i" x="166" y="22">S[0:1]</text><text class="i" x="3" y="34">StyledByItem</text><text class="r i" x="166" y="34">S[0:1]</text>
<text x="3" y="46">Location</text><text x="3" y="58">Axis</text><text x="3" y="70">RefDirection</text></g>

<g id="ProductDefinitionShape_s" transform="translate(208,3336)"><rect class="f" x=".5" y=".5" width="168" height="72"/><rect class="h" width="169" height="12"/><text class="ht" x="3" y="10">IfcProductDefinitionShape</text>
<text x="3" y="22">Name</text><text x="3" y="34">Description</text><text x="3" y="46">Representations</text><text class="r" x="166" y="46">L[1:?]</text>
<text class="i" x="3" y="58">ShapeOfProduct</text><text class="r i" x="166" y="58">S[1:?]</text><text class="i" x="3" y="70">HasShapeAspects</text><text class="r i" x="166" y="70">S[0:?]</text></g>
<g id="ShapeRepresentation_s" transform="translate(408,3336)"><rect class="f" x=".5" y=".5" width="168" height="108"/><rect class="h" width="169" height="12"/><text class="ht" x="3" y="10">IfcShapeRepresentation</text>
<text x="3" y="22">ContextOfItems</text><text class="u" x="3" y="34">RepresentationIdentifier</text><text class="u" x="3" y="46">RepresentationType</text><text class="u" x="3" y="58">Items</text><text class="r" x="166" y="58">S[1:?]</text>
<text class="i" x="3" y="70">RepresentationMap</text><text class="r i" x="166" y="70">S[0:1]</text><text class="i" x="3" y="82">LayerAssignments</text><text class="r i" x="166" y="82">S[0:?]</text>
<text class="i" x="3" y="94">OfProductRepresentation</text><text class="r i" x="166" y="94">S[0:?]</text><text class="i" x="3" y="106">OfShapeAspect</text><text class="r i" x="166" y="106">S[0:1]</text></g>
<g id="GeometricRepresentationContext_s" transform="translate(608,3336)"><rect class="f" x=".5" y=".5" width="168" height="120"/><rect class="h" width="169" height="12"/><text class="ht" x="3" y="10" textLength="163" lengthAdjust="spacingAndGlyphs">IfcGeometricRepresentationContext</text>
<text x="3" y="22">ContextIdentifier</text><text x="3" y="34">ContextType</text><text class="i" x="3" y="46">RepresentationsInContext</text><text class="r i" x="166" y="46">S[0:?]</text>
<text x="3" y="58">CoordinateSpaceDimension</text><text x="3" y="70">Precision</text><text x="3" y="82">WorldCoordinateSystem</text><text x="3" y="94">TrueNorth</text>
<text class="i" x="3" y="106">HasSubContexts</text><text class="r i" x="166" y="106">S[0:?]</text><text class="i" x="3" y="118">HasCoordinateOperation</text><text class="r i" x="166" y="118">S[0:1]</text></g>
<g id="Label_s1" transform="translate(608,3476)"><rect class="h" width="169" height="13"/><text class="tt" x="3" y="10">IfcLabel</text><text class="tt r" x="166" y="10">Body</text></g>
<g id="Label_s2" transform="translate(608,3508)"><rect class="h" width="169" height="13"/><text class="tt" x="3" y="10">IfcLabel</text></g>
<g id="SweptAreaSolid_s" transform="translate(608,3540)"><rect class="f" x=".5" y=".5" width="168" height="60"/><rect class="g" x=".5" y=".5" width="168" height="11.5"/><text class="ht" x="3" y="10">IfcSweptAreaSolid</text>
<text class="i" x="3" y="22">LayerAssignment</text><text class="r i" x="166" y="22">S[0:1]</text><text class="i" x="3" y="34">StyledByItem</text><text class="r i" x="166" y="34">S[0:1]</text>
<text x="3" y="46">SweptArea</text><text x="3" y="58">Position</text></g>

<g id="ProductDefinitionShape_c" transform="translate(208,3644)"><rect class="f" x=".5" y=".5" width="168" height="72"/><rect class="h" width="169" height="12"/><text class="ht" x="3" y="10">IfcProductDefinitionShape</text>
<text x="3" y="22">Name</text><text x="3" y="34">Description</text><text x="3" y="46">Representations</text><text class="r" x="166" y="46">L[1:?]</text>
<text class="i" x="3" y="58">ShapeOfProduct</text><text class="r i" x="166" y="58">S[1:?]</text><text class="i" x="3" y="70">HasShapeAspects</text><text class="r i" x="166" y="70">S[0:?]</text></g>
<g id="ShapeRepresentation_c" transform="translate(408,3644)"><rect class="f" x=".5" y=".5" width="168" height="108"/><rect class="h" width="169" height="12"/><text class="ht" x="3" y="10">IfcShapeRepresentation</text>
<text x="3" y="22">ContextOfItems</text><text class="u" x="3" y="34">RepresentationIdentifier</text><text class="u" x="3" y="46">RepresentationType</text><text class="u" x="3" y="58">Items</text><text class="r" x="166" y="58">S[1:?]</text>
<text class="i" x="3" y="70">RepresentationMap</text><text class="r i" x="166" y="70">S[0:1]</text><text class="i" x="3" y="82">LayerAssignments</text><text class="r i" x="166" y="82">S[0:?]</text>
<text class="i" x="3" y="94">OfProductRepresentation</text><text class="r i" x="166" y="94">S[0:?]</text><text class="i" x="3" y="106">OfShapeAspect</text><text class="r i" x="166" y="106">S[0:1]</text></g>
<g id="GeometricRepresentationContext_c" transform="translate(608,3644)"><rect class="f" x=".5" y=".5" width="168" height="120"/><rect class="h" width="169" height="12"/><text class="ht" x="3" y="10" textLength="163" lengthAdjust="spacingAndGlyphs">IfcGeometricRepresentationContext</text>
<text x="3" y="22">ContextIdentifier</text><text x="3" y="34">ContextType</text><text class="i" x="3" y="46">RepresentationsInContext</text><text class="r i" x="166" y="46">S[0:?]</text>
<text x="3" y="58">CoordinateSpaceDimension</text><text x="3" y="70">Precision</text><text x="3" y="82">WorldCoordinateSystem</text><text x="3" y="94">TrueNorth</text>
<text class="i" x="3" y="106">HasSubContexts</text><text class="r i" x="166" y="106">S[0:?]</text><text class="i" x="3" y="118">HasCoordinateOperation</text><text class="r i" x="166" y="118">S[0:1]</text></g>
<g id="Label_c_body" transform="translate(608,3784)"><rect class="h" width="169" height="13"/><text class="tt" x="3" y="10">IfcLabel</text><text class="tt r" x="166" y="10">Body</text></g>
<g id="Label_c_clip" transform="translate(608,3816)"><rect class="h" width="169" height="13"/><text class="tt" x="3" y="10">IfcLabel</text><text class="tt r" x="166" y="10">Clipping</text></g>
<g id="BooleanClippingResult_1" transform="translate(608,3848)"><rect class="f" x=".5" y=".5" width="168" height="72"/><rect class="h" width="169" height="12"/><text class="ht" x="3" y="10">IfcBooleanClippingResult</text>
<text class="i" x="3" y="22">LayerAssignment</text><text class="r i" x="166" y="22">S[0:1]</text><text class="i" x="3" y="34">StyledByItem</text><text class="r i" x="166" y="34">S[0:1]</text>
<text x="3" y="46">Operator</text><text x="3" y="58">FirstOperand</text><text x="3" y="70">SecondOperand</text></g>
<g id="BooleanOperator" transform="translate(808,3644)"><rect class="h" width="169" height="13"/><text class="tt" x="3" y="10">IfcBooleanOperator</text></g>
<g id="CsgPrimitive3D" transform="translate(808,3676)"><rect class="f" x=".5" y=".5" width="168" height="48"/><rect class="g" x=".5" y=".5" width="168" height="11.5"/><text class="ht" x="3" y="10">IfcCsgPrimitive3D</text>
<text class="i" x="3" y="22">LayerAssignment</text><text class="r i" x="166" y="22">S[0:1]</text><text class="i" x="3" y="34">StyledByItem</text><text class="r i" x="166" y="34">S[0:1]</text><text x="3" y="46">Position</text></g>
<g id="SolidModel" transform="translate(808,3744)"><rect class="f" x=".5" y=".5" width="168" height="36"/><rect class="g" x=".5" y=".5" width="168" height="11.5"/><text class="ht" x="3" y="10">IfcSolidModel</text>
<text class="i" x="3" y="22">LayerAssignment</text><text class="r i" x="166" y="22">S[0:1]</text><text class="i" x="3" y="34">StyledByItem</text><text class="r i" x="166" y="34">S[0:1]</text></g>
<g id="BooleanClippingResult_2" transform="translate(808,3800)"><rect class="f" x=".5" y=".5" width="168" height="72"/><rect class="h" width="169" height="12"/><text class="ht" x="3" y="10">IfcBooleanClippingResult</text>
<text class="i" x="3" y="22">LayerAssignment</text><text class="r i" x="166" y="22">S[0:1]</text><text class="i" x="3" y="34">StyledByItem</text><text class="r i" x="166" y="34">S[0:1]</text>
<text x="3" y="46">Operator</text><text x="3" y="58">FirstOperand</text><text x="3" y="70">SecondOperand</text></g>
<g id="HalfSpaceSolid" transform="translate(808,3892)"><rect class="f" x=".5" y=".5" width="168" height="60"/><rect class="h" width="169" height="12"/><text class="ht" x="3" y="10">IfcHalfSpaceSolid</text>
<text class="i" x="3" y="22">LayerAssignment</text><text class="r i" x="166" y="22">S[0:1]</text><text class="i" x="3" y="34">StyledByItem</text><text class="r i" x="166" y="34">S[0:1]</text>
<text x="3" y="46">BaseSurface</text><text x="3" y="58">AgreementFlag</text></g>
<g id="PolygonalBoundedHalfSpace" transform="translate(808,3972)"><rect class="f" x=".5" y=".5" width="168" height="84"/><rect class="h" width="169" height="12"/><text class="ht" x="3" y="10" textLength="160" lengthAdjust="spacingAndGlyphs">IfcPolygonalBoundedHalfSpace</text>
<text class="i" x="3" y="22">LayerAssignment</text><text class="r i" x="166" y="22">S[0:1]</text><text class="i" x="3" y="34">StyledByItem</text><text class="r i" x="166" y="34">S[0:1]</text>
<text x="3" y="46">BaseSurface</text><text x="3" y="58">AgreementFlag</text><text x="3" y="70">Position</text><text x="3" y="82">PolygonalBoundary</text></g>
<g id="Plane" transform="translate(1008,3644)"><rect class="f" x=".5" y=".5" width="168" height="48"/><rect class="h" width="169" height="12"/><text class="ht" x="3" y="10">IfcPlane</text>
<text class="i" x="3" y="22">LayerAssignment</text><text class="r i" x="166" y="22">S[0:1]</text><text class="i" x="3" y="34">StyledByItem</text><text class="r i" x="166" y="34">S[0:1]</text><text x="3" y="46">Position</text></g>
<g id="Boolean_c" transform="translate(1008,3712)"><rect class="h" width="169" height="13"/><text class="tt" x="3" y="10">IfcBoolean</text></g>
<g id="Axis2Placement3D_c" transform="translate(1008,3744)"><rect class="f" x=".5" y=".5" width="168" height="72"/><rect class="h" width="169" height="12"/><text class="ht" x="3" y="10">IfcAxis2Placement3D</text>
<text class="i" x="3" y="22">LayerAssignment</text><text class="r i" x="166" y="22">S[0:1]</text><text class="i" x="3" y="34">StyledByItem</text><text class="r i" x="166" y="34">S[0:1]</text>
<text x="3" y="46">Location</text><text x="3" y="58">Axis</text><text x="3" y="70">RefDirection</text></g>
<g id="IndexedPolyCurve_c" transform="translate(1008,3836)"><rect class="f" x=".5" y=".5" width="168" height="72"/><rect class="h" width="169" height="12"/><text class="ht" x="3" y="10">IfcIndexedPolyCurve</text>
<text class="i" x="3" y="22">LayerAssignment</text><text class="r i" x="166" y="22">S[0:1]</text><text class="i" x="3" y="34">StyledByItem</text><text class="r i" x="166" y="34">S[0:1]</text>
<text x="3" y="46">Points</text><text x="3" y="58">Segments</text><text class="r" x="166" y="58">L[1:?]</text><text x="3" y="70">SelfIntersect</text></g>

<g id="ProductDefinitionShape_e" transform="translate(208,4100)"><rect class="f" x=".5" y=".5" width="168" height="72"/><rect class="h" width="169" height="12"/><text class="ht" x="3" y="10">IfcProductDefinitionShape</text>
<text x="3" y="22">Name</text><text x="3" y="34">Description</text><text x="3" y="46">Representations</text><text class="r" x="166" y="46">L[1:?]</text>
<text class="i" x="3" y="58">ShapeOfProduct</text><text class="r i" x="166" y="58">S[1:?]</text><text class="i" x="3" y="70">HasShapeAspects</text><text class="r i" x="166" y="70">S[0:?]</text></g>
<g id="ShapeRepresentation_e" transform="translate(408,4100)"><rect class="f" x=".5" y=".5" width="168" height="108"/><rect class="h" width="169" height="12"/><text class="ht" x="3" y="10">IfcShapeRepresentation</text>
<text x="3" y="22">ContextOfItems</text><text class="u" x="3" y="34">RepresentationIdentifier</text><text class="u" x="3" y="46">RepresentationType</text><text class="u" x="3" y="58">Items</text><text class="r" x="166" y="58">S[1:?]</text>
<text class="i" x="3" y="70">RepresentationMap</text><text class="r i" x="166" y="70">S[0:1]</text><text class="i" x="3" y="82">LayerAssignments</text><text class="r i" x="166" y="82">S[0:?]</text>
<text class="i" x="3" y="94">OfProductRepresentation</text><text class="r i" x="166" y="94">S[0:?]</text><text class="i" x="3" y="106">OfShapeAspect</text><text class="r i" x="166" y="106">S[0:1]</text></g>
<g id="GeometricRepresentationContext_e" transform="translate(608,4100)"><rect class="f" x=".5" y=".5" width="168" height="120"/><rect class="h" width="169" height="12"/><text class="ht" x="3" y="10" textLength="163" lengthAdjust="spacingAndGlyphs">IfcGeometricRepresentationContext</text>
<text x="3" y="22">ContextIdentifier</text><text x="3" y="34">ContextType</text><text class="i" x="3" y="46">RepresentationsInContext</text><text class="r i" x="166" y="46">S[0:?]</text>
<text x="3" y="58">CoordinateSpaceDimension</text><text x="3" y="70">Precision</text><text x="3" y="82">WorldCoordinateSystem</text><text x="3" y="94">TrueNorth</text>
<text class="i" x="3" y="106">HasSubContexts</text><text class="r i" x="166" y="106">S[0:?]</text><text class="i" x="3" y="118">HasCoordinateOperation</text><text class="r i" x="166" y="118">S[0:1]</text></g>
<g id="Label_e1" transform="translate(608,4240)"><rect class="h" width="169" height="13"/><text class="tt" x="3" y="10">IfcLabel</text><text class="tt r" x="166" y="10">Body</text></g>
<g id="Label_e2" transform="translate(608,4272)"><rect class="h" width="169" height="13"/><text class="tt" x="3" y="10">IfcLabel</text></g>
<g id="SweptAreaSolid_e" transform="translate(608,4304)"><rect class="f" x=".5" y=".5" width="168" height="60"/><rect class="g" x=".5" y=".5" width="168" height="11.5"/><text class="ht" x="3" y="10">IfcSweptAreaSolid</text>
<text class="i" x="3" y="22">LayerAssignment</text><text class="r i" x="166" y="22">S[0:1]</text><text class="i" x="3" y="34">StyledByItem</text><text class="r i" x="166" y="34">S[0:1]</text>
<text x="3" y="46">SweptArea</text><text x="3" y="58">Position</text></g>
<g id="ExtrudedAreaSolid" transform="translate(608,4384)"><rect class="f" x=".5" y=".5" width="168" height="84"/><rect class="h" width="169" height="12"/><text class="ht" x="3" y="10">IfcExtrudedAreaSolid</text>
<text class="i" x="3" y="22">LayerAssignment</text><text class="r i" x="166" y="22">S[0:1]</text><text class="i" x="3" y="34">StyledByItem</text><text class="r i" x="166" y="34">S[0:1]</text>
<text x="3" y="46">SweptArea</text><text x="3" y="58">Position</text><text x="3" y="70">ExtrudedDirection</text><text x="3" y="82">Depth</text></g>
<g id="ArbitraryClosedProfileDef" transform="translate(808,4100)"><rect class="f" x=".5" y=".5" width="168" height="72"/><rect class="h" width="169" height="12"/><text class="ht" x="3" y="10">IfcArbitraryClosedProfileDef</text>
<text x="3" y="22">ProfileType</text><text x="3" y="34">ProfileName</text><text class="i" x="3" y="46">HasExternalReference</text><text class="r i" x="166" y="46">S[0:?]</text>
<text class="i" x="3" y="58">HasProperties</text><text class="r i" x="166" y="58">S[0:?]</text><text x="3" y="70">OuterCurve</text></g>
<g id="PositiveLengthMeasure_e" transform="translate(808,4192)"><rect class="h" width="169" height="13"/><text class="tt" x="3" y="10">IfcPositiveLengthMeasure</text></g>
<g id="IndexedPolyCurve_e" transform="translate(1008,4100)"><rect class="f" x=".5" y=".5" width="168" height="72"/><rect class="h" width="169" height="12"/><text class="ht" x="3" y="10">IfcIndexedPolyCurve</text>
<text class="i" x="3" y="22">LayerAssignment</text><text class="r i" x="166" y="22">S[0:1]</text><text class="i" x="3" y="34">StyledByItem</text><text class="r i" x="166" y="34">S[0:1]</text>
<text x="3" y="46">Points</text><text x="3" y="58">Segments</text><text class="r" x="166" y="58">L[1:?]</text><text x="3" y="70">SelfIntersect</text></g>
<g id="CartesianPointList2D_e" transform="translate(1208,4100)"><rect class="f" x=".5" y=".5" width="168" height="48"/><rect class="h" width="169" height="12"/><text class="ht" x="3" y="10">IfcCartesianPointList2D</text>
<text class="i" x="3" y="22">LayerAssignment</text><text class="r i" x="166" y="22">S[0:1]</text><text class="i" x="3" y="34">StyledByItem</text><text class="r i" x="166" y="34">S[0:1]</text>
<text x="3" y="46">CoordList</text><text class="r" x="166" y="46">L[1:?]</text></g>
<g id="LineIndex_e" transform="translate(1208,4168)"><rect class="h" width="169" height="13"/><text class="tt" x="3" y="10">IfcLineIndex</text></g>
<g id="ArcIndex_e" transform="translate(1208,4200)"><rect class="h" width="169" height="13"/><text class="tt" x="3" y="10">IfcArcIndex</text></g>
<g id="Boolean_e" transform="translate(1208,4232)"><rect class="h" width="169" height="13"/><text class="tt" x="3" y="10">IfcBoolean</text></g>

<g id="ProductDefinitionShape_a" transform="translate(208,4512)"><rect class="f" x=".5" y=".5" width="168" height="72"/><rect class="h" width="169" height="12"/><text class="ht" x="3" y="10">IfcProductDefinitionShape</text>
<text x="3" y="22">Name</text><text x="3" y="34">Description</text><text x="3" y="46">Representations</text><text class="r" x="166" y="46">L[1:?]</text>
<text class="i" x="3" y="58">ShapeOfProduct</text><text class="r i" x="166" y="58">S[1:?]</text><text class="i" x="3" y="70">HasShapeAspects</text><text class="r i" x="166" y="70">S[0:?]</text></g>
<g id="ShapeRepresentation_a" transform="translate(408,4512)"><rect class="f" x=".5" y=".5" width="168" height="108"/><rect class="h" width="169" height="12"/><text class="ht" x="3" y="10">IfcShapeRepresentation</text>
<text x="3" y="22">ContextOfItems</text><text class="u" x="3" y="34">RepresentationIdentifier</text><text class="u" x="3" y="46">RepresentationType</text><text class="u" x="3" y="58">Items</text><text class="r" x="166" y="58">S[1:?]</text>
<text class="i" x="3" y="70">RepresentationMap</text><text class="r i" x="166" y="70">S[0:1]</text><text class="i" x="3" y="82">LayerAssignments</text><text class="r i" x="166" y="82">S[0:?]</text>
<text class="i" x="3" y="94">OfProductRepresentation</text><text class="r i" x="166" y="94">S[0:?]</text><text class="i" x="3" y="106">OfShapeAspect</text><text class="r i" x="166" y="106">S[0:1]</text></g>
<g id="GeometricRepresentationContext_a" transform="translate(608,4512)"><rect class="f" x=".5" y=".5" width="168" height="120"/><rect class="h" width="169" height="12"/><text class="ht" x="3" y="10" textLength="163" lengthAdjust="spacingAndGlyphs">IfcGeometricRepresentationContext</text>
<text x="3" y="22">ContextIdentifier</text><text x="3" y="34">ContextType</text><text class="i" x="3" y="46">RepresentationsInContext</text><text class="r i" x="166" y="46">S[0:?]</text>
<text x="3" y="58">CoordinateSpaceDimension</text><text x="3" y="70">Precision</text><text x="3" y="82">WorldCoordinateSystem</text><text x="3" y="94">TrueNorth</text>
<text class="i" x="3" y="106">HasSubContexts</text><text class="r i" x="166" y="106">S[0:?]</text><text class="i" x="3" y="118">HasCoordinateOperation</text><text class="r i" x="166" y="118">S[0:1]</text></g>
<g id="Label_a_ann" transform="translate(608,4652)"><rect class="h" width="169" height="13"/><text class="tt" x="3" y="10">IfcLabel</text><text class="tt r" x="166" y="10">Annotation</text></g>
<g id="Label_a_ann2d" transform="translate(608,4684)"><rect class="h" width="169" height="13"/><text class="tt" x="3" y="10">IfcLabel</text><text class="tt r" x="166" y="10">Annotation2D</text></g>
<g id="AnnotationFillArea" transform="translate(608,4716)"><rect class="f" x=".5" y=".5" width="168" height="60"/><rect class="h" width="169" height="12"/><text class="ht" x="3" y="10">IfcAnnotationFillArea</text>
<text class="i" x="3" y="22">LayerAssignment</text><text class="r i" x="166" y="22">S[0:1]</text><text class="i" x="3" y="34">StyledByItem</text><text class="r i" x="166" y="34">S[0:1]</text>
<text x="3" y="46">OuterBoundary</text><text x="3" y="58">InnerBoundaries</text><text class="r" x="166" y="58">S[1:?]</text></g>
<g id="IndexedPolyCurve_a" transform="translate(608,4796)"><rect class="f" x=".5" y=".5" width="168" height="72"/><rect class="h" width="169" height="12"/><text class="ht" x="3" y="10">IfcIndexedPolyCurve</text>
<text class="i" x="3" y="22">LayerAssignment</text><text class="r i" x="166" y="22">S[0:1]</text><text class="i" x="3" y="34">StyledByItem</text><text class="r i" x="166" y="34">S[0:1]</text>
<text x="3" y="46">Points</text><text x="3" y="58">Segments</text><text class="r" x="166" y="58">L[1:?]</text><text x="3" y="70">SelfIntersect</text></g>
<g id="CartesianPoint" transform="translate(608,4888)"><rect class="f" x=".5" y=".5" width="168" height="48"/><rect class="h" width="169" height="12"/><text class="ht" x="3" y="10">IfcCartesianPoint</text>
<text class="i" x="3" y="22">LayerAssignment</text><text class="r i" x="166" y="22">S[0:1]</text><text class="i" x="3" y="34">StyledByItem</text><text class="r i" x="166" y="34">S[0:1]</text>
<text x="3" y="46">Coordinates</text><text class="r" x="166" y="46">L[1:3]</text></g>
<g id="TextLiteral" transform="translate(608,4956)"><rect class="f" x=".5" y=".5" width="168" height="72"/><rect class="h" width="169" height="12"/><text class="ht" x="3" y="10">IfcTextLiteral</text>
<text class="i" x="3" y="22">LayerAssignment</text><text class="r i" x="166" y="22">S[0:1]</text><text class="i" x="3" y="34">StyledByItem</text><text class="r i" x="166" y="34">S[0:1]</text>
<text x="3" y="46">Literal</text><text x="3" y="58">Placement</text><text x="3" y="70">Path</text></g>
<g id="StyledItem_1" transform="translate(808,4512)"><rect class="f" x=".5" y=".5" width="168" height="72"/><rect class="h" width="169" height="12"/><text class="ht" x="3" y="10">IfcStyledItem</text>
<text class="i" x="3" y="22">LayerAssignment</text><text class="r i" x="166" y="22">S[0:1]</text><text class="i" x="3" y="34">StyledByItem</text><text class="r i" x="166" y="34">S[0:1]</text>
<text x="3" y="46">Item</text><text x="3" y="58">Styles</text><text class="r" x="166" y="58">S[1:?]</text><text x="3" y="70">Name</text></g>
<g id="IndexedPolyCurve_a1" transform="translate(808,4604)"><rect class="f" x=".5" y=".5" width="168" height="72"/><rect class="h" width="169" height="12"/><text class="ht" x="3" y="10">IfcIndexedPolyCurve</text>
<text class="i" x="3" y="22">LayerAssignment</text><text class="r i" x="166" y="22">S[0:1]</text><text class="i" x="3" y="34">StyledByItem</text><text class="r i" x="166" y="34">S[0:1]</text>
<text x="3" y="46">Points</text><text x="3" y="58">Segments</text><text class="r" x="166" y="58">L[1:?]</text><text x="3" y="70">SelfIntersect</text></g>
<g id="IndexedPolyCurve_a2" transform="translate(808,4696)"><rect class="f" x=".5" y=".5" width="168" height="72"/><rect class="h" width="169" height="12"/><text class="ht" x="3" y="10">IfcIndexedPolyCurve</text>
<text class="i" x="3" y="22">LayerAssignment</text><text class="r i" x="166" y="22">S[0:1]</text><text class="i" x="3" y="34">StyledByItem</text><text class="r i" x="166" y="34">S[0:1]</text>
<text x="3" y="46">Points</text><text x="3" y="58">Segments</text><text class="r" x="166" y="58">L[1:?]</text><text x="3" y="70">SelfIntersect</text></g>
<g id="StyledItem_2" transform="translate(808,4788)"><rect class="f" x=".5" y=".5" width="168" height="72"/><rect class="h" width="169" height="12"/><text class="ht" x="3" y="10">IfcStyledItem</text>
<text class="i" x="3" y="22">LayerAssignment</text><text class="r i" x="166" y="22">S[0:1]</text><text class="i" x="3" y="34">StyledByItem</text><text class="r i" x="166" y="34">S[0:1]</text>
<text x="3" y="46">Item</text><text x="3" y="58">Styles</text><text class="r" x="166" y="58">S[1:?]</text><text x="3" y="70">Name</text></g>
<g id="CartesianPointList2D_a" transform="translate(808,4880)"><rect class="f" x=".5" y=".5" width="168" height="48"/><rect class="h" width="169" height="12"/><text class="ht" x="3" y="10">IfcCartesianPointList2D</text>
<text class="i" x="3" y="22">LayerAssignment</text><text class="r i" x="166" y="22">S[0:1]</text><text class="i" x="3" y="34">StyledByItem</text><text class="r i" x="166" y="34">S[0:1]</text>
<text x="3" y="46">CoordList</text><text class="r" x="166" y="46">L[1:?]</text></g>
<g id="StyledItem_3" transform="translate(808,4948)"><rect class="f" x=".5" y=".5" width="168" height="72"/><rect class="h" width="169" height="12"/><text class="ht" x="3" y="10">IfcStyledItem</text>
<text class="i" x="3" y="22">LayerAssignment</text><text class="r i" x="166" y="22">S[0:1]</text><text class="i" x="3" y="34">StyledByItem</text><text class="r i" x="166" y="34">S[0:1]</text>
<text x="3" y="46">Item</text><text x="3" y="58">Styles</text><text class="r" x="166" y="58">S[1:?]</text><text x="3" y="70">Name</text></g>
<g id="PresentableText" transform="translate(808,5040)"><rect class="h" width="169" height="13"/><text class="tt" x="3" y="10">IfcPresentableText</text></g>
<g id="Axis2Placement2D" transform="translate(808,5072)"><rect class="f" x=".5" y=".5" width="168" height="60"/><rect class="h" width="169" height="12"/><text class="ht" x="3" y="10">IfcAxis2Placement2D</text>
<text class="i" x="3" y="22">LayerAssignment</text><text class="r i" x="166" y="22">S[0:1]</text><text class="i" x="3" y="34">StyledByItem</text><text class="r i" x="166" y="34">S[0:1]</text>
<text x="3" y="46">Location</text><text x="3" y="58">RefDirection</text></g>
<g id="TextPath" transform="translate(808,5152)"><rect class="h" width="169" height="13"/><text class="tt" x="3" y="10">IfcTextPath</text></g>
<g id="FillAreaStyle" transform="translate(1008,4512)"><rect class="f" x=".5" y=".5" width="168" height="48"/><rect class="h" width="169" height="12"/><text class="ht" x="3" y="10">IfcFillAreaStyle</text>
<text x="3" y="22">Name</text><text x="3" y="34">FillStyles</text><text class="r" x="166" y="34">S[1:?]</text><text x="3" y="46">ModelorDraughting</text></g>
<g id="CartesianPointList2D_a1" transform="translate(1008,4580)"><rect class="f" x=".5" y=".5" width="168" height="48"/><rect class="h" width="169" height="12"/><text class="ht" x="3" y="10">IfcCartesianPointList2D</text>
<text class="i" x="3" y="22">LayerAssignment</text><text class="r i" x="166" y="22">S[0:1]</text><text class="i" x="3" y="34">StyledByItem</text><text class="r i" x="166" y="34">S[0:1]</text>
<text x="3" y="46">CoordList</text><text class="r" x="166" y="46">L[1:?]</text></g>
<g id="ArcIndex_a1" transform="translate(1008,4648)"><rect class="h" width="169" height="13"/><text class="tt" x="3" y="10">IfcArcIndex</text></g>
<g id="LineIndex_a1" transform="translate(1008,4680)"><rect class="h" width="169" height="13"/><text class="tt" x="3" y="10">IfcLineIndex</text></g>
<g id="CartesianPointList2D_a2" transform="translate(1008,4712)"><rect class="f" x=".5" y=".5" width="168" height="48"/><rect class="h" width="169" height="12"/><text class="ht" x="3" y="10">IfcCartesianPointList2D</text>
<text class="i" x="3" y="22">LayerAssignment</text><text class="r i" x="166" y="22">S[0:1]</text><text class="i" x="3" y="34">StyledByItem</text><text class="r i" x="166" y="34">S[0:1]</text>
<text x="3" y="46">CoordList</text><text class="r" x="166" y="46">L[1:?]</text></g>
<g id="ArcIndex_a2" transform="translate(1008,4780)"><rect class="h" width="169" height="13"/><text class="tt" x="3" y="10">IfcArcIndex</text></g>
<g id="LineIndex_a2" transform="translate(1008,4812)"><rect class="h" width="169" height="13"/><text class="tt" x="3" y="10">IfcLineIndex</text></g>
<g id="CurveStyle" transform="translate(1008,4844)"><rect class="f" x=".5" y=".5" width="168" height="72"/><rect class="h" width="169" height="12"/><text class="ht" x="3" y="10">IfcCurveStyle</text>
<text x="3" y="22">Name</text><text x="3" y="34">CurveFont</text><text x="3" y="46">CurveWidth</text><text x="3" y="58">CurveColour</text><text x="3" y="70">ModelOrDraughting</text></g>
<g id="LengthMeasure_a" transform="translate(1008,4936)"><rect class="h" width="169" height="13"/><text class="tt" x="3" y="10">IfcLengthMeasure</text></g>
<g id="TextStyle" transform="translate(1008,4968)"><rect class="f" x=".5" y=".5" width="168" height="72"/><rect class="h" width="169" height="12"/><text class="ht" x="3" y="10">IfcTextStyle</text>
<text x="3" y="22">Name</text><text x="3" y="34">TextCharacterAppearance</text><text x="3" y="46">TextStyle</text><text x="3" y="58">TextFontStyle</text><text x="3" y="70">ModelOrDraughting</text></g>

<g id="RelAssignsToProduct" transform="translate(208,5208)"><rect class="f" x=".5" y=".5" width="168" height="96"/><rect class="h" width="169" height="12"/><text class="ht" x="3" y="10">IfcRelAssignsToProduct</text>
<text x="3" y="22">GlobalId</text><text x="3" y="34">OwnerHistory</text><text x="3" y="46">Name</text><text x="3" y="58">Description</text>
<text x="3" y="70">RelatedObjects</text><text class="r" x="166" y="70">S[1:?]</text><text x="3" y="82">RelatedObjectsType</text><text x="3" y="94">RelatingProduct</text></g>
<g id="Identifier_occ" transform="translate(208,5348)"><rect class="h" width="169" height="13"/><text class="tt" x="3" y="10">IfcIdentifier</text></g>
<g id="RelConnectsElements" transform="translate(208,5404)"><rect class="f" x=".5" y=".5" width="168" height="96"/><rect class="h" width="169" height="12"/><text class="ht" x="3" y="10">IfcRelConnectsElements</text>
<text x="3" y="22">GlobalId</text><text x="3" y="34">OwnerHistory</text><text x="3" y="46">Name</text><text x="3" y="58">Description</text>
<text x="3" y="70">ConnectionGeometry</text><text class="u" x="3" y="82">RelatingElement</text><text x="3" y="94">RelatedElement</text></g>
<g id="ConnectionSurfaceGeometry" transform="translate(408,5404)"><rect class="f" x=".5" y=".5" width="168" height="36"/><rect class="h" width="169" height="12"/><text class="ht" x="3" y="10" textLength="158" lengthAdjust="spacingAndGlyphs">IfcConnectionSurfaceGeometry</text>
<text x="3" y="22">SurfaceOnRelatingElement</text><text x="3" y="34">SurfaceOnRelatedElement</text></g>
<g id="Element_conn" transform="translate(408,5460)"><rect class="f" x=".5" y=".5" width="168" height="408"/><rect class="g" x=".5" y=".5" width="168" height="11.5"/><text class="ht" x="3" y="10">IfcElement</text>
<text x="3" y="22">GlobalId</text><text x="3" y="34">OwnerHistory</text><text x="3" y="46">Name</text><text x="3" y="58">Description</text>
<text class="i" x="3" y="70">HasAssignments</text><text class="r i" x="166" y="70">S[0:?]</text>
<text class="i" x="3" y="82">Nests</text><text class="r i" x="166" y="82">S[0:1]</text>
<text class="i" x="3" y="94">IsNestedBy</text><text class="r i" x="166" y="94">S[0:?]</text>
<text class="i" x="3" y="106">HasContext</text><text class="r i" x="166" y="106">S[0:1]</text>
<text class="i" x="3" y="118">IsDecomposedBy</text><text class="r i" x="166" y="118">S[0:?]</text>
<text class="i" x="3" y="130">Decomposes</text><text class="r i" x="166" y="130">S[0:1]</text>
<text class="i" x="3" y="142">HasAssociations</text><text class="r i" x="166" y="142">S[0:?]</text>
<text x="3" y="154">ObjectType</text>
<text class="i" x="3" y="166">IsDeclaredBy</text><text class="r i" x="166" y="166">S[0:1]</text>
<text class="i" x="3" y="178">Declares</text><text class="r i" x="166" y="178">S[0:?]</text>
<text class="i" x="3" y="190">IsTypedBy</text><text class="r i" x="166" y="190">S[0:1]</text>
<text class="i" x="3" y="202">IsDefinedBy</text><text class="r i" x="166" y="202">S[0:?]</text>
<text x="3" y="214">ObjectPlacement</text>
<text x="3" y="226">Representation</text>
<text class="i" x="3" y="238">ReferencedBy</text><text class="r i" x="166" y="238">S[0:?]</text>
<text x="3" y="250">Tag</text>
<text class="i" x="3" y="262">FillsVoids</text><text class="r i" x="166" y="262">S[0:1]</text>
<text class="i" x="3" y="274">ConnectedTo</text><text class="r i" x="166" y="274">S[0:?]</text>
<text class="i" x="3" y="286">IsInterferedByElements</text><text class="r i" x="166" y="286">S[0:?]</text>
<text class="i" x="3" y="298">InterferesElements</text><text class="r i" x="166" y="298">S[0:?]</text>
<text class="i" x="3" y="310">HasProjections</text><text class="r i" x="166" y="310">S[0:?]</text>
<text class="i" x="3" y="322">ReferencedInStructures</text><text class="r i" x="166" y="322">S[0:?]</text>
<text class="i" x="3" y="334">HasOpenings</text><text class="r i" x="166" y="334">S[0:?]</text>
<text class="i" x="3" y="346">IsConnectionRealization</text><text class="r i" x="166" y="346">S[0:?]</text>
<text class="i" x="3" y="358">ProvidesBoundaries</text><text class="r i" x="166" y="358">S[0:?]</text>
<text class="i" x="3" y="370">ConnectedFrom</text><text class="r i" x="166" y="370">S[0:?]</text>
<text class="i" x="3" y="382">ContainedInStructure</text><text class="r i" x="166" y="382">S[0:1]</text>
<text class="i" x="3" y="394">HasCoverings</text><text class="r i" x="166" y="394">S[0:?]</text>
<text class="i" x="3" y="406">PositionedFrom</text><text class="r i" x="166" y="406">S[0:1]</text></g>
<g id="CurveBoundedSurface_1" transform="translate(608,5404)"><rect class="f" x=".5" y=".5" width="168" height="72"/><rect class="h" width="169" height="12"/><text class="ht" x="3" y="10">IfcCurveBoundedSurface</text>
<text class="i" x="3" y="22">LayerAssignment</text><text class="r i" x="166" y="22">S[0:1]</text><text class="i" x="3" y="34">StyledByItem</text><text class="r i" x="166" y="34">S[0:1]</text>
<text x="3" y="46">BasisSurface</text><text x="3" y="58">Boundaries</text><text class="r" x="166" y="58">S[1:?]</text><text x="3" y="70">ImplicitOuter</text></g>
<g id="CurveBoundedSurface_2" transform="translate(608,5496)"><rect class="f" x=".5" y=".5" width="168" height="72"/><rect class="h" width="169" height="12"/><text class="ht" x="3" y="10">IfcCurveBoundedSurface</text>
<text class="i" x="3" y="22">LayerAssignment</text><text class="r i" x="166" y="22">S[0:1]</text><text class="i" x="3" y="34">StyledByItem</text><text class="r i" x="166" y="34">S[0:1]</text>
<text x="3" y="46">BasisSurface</text><text x="3" y="58">Boundaries</text><text class="r" x="166" y="58">S[1:?]</text><text x="3" y="70">ImplicitOuter</text></g>
</g>
</svg>
